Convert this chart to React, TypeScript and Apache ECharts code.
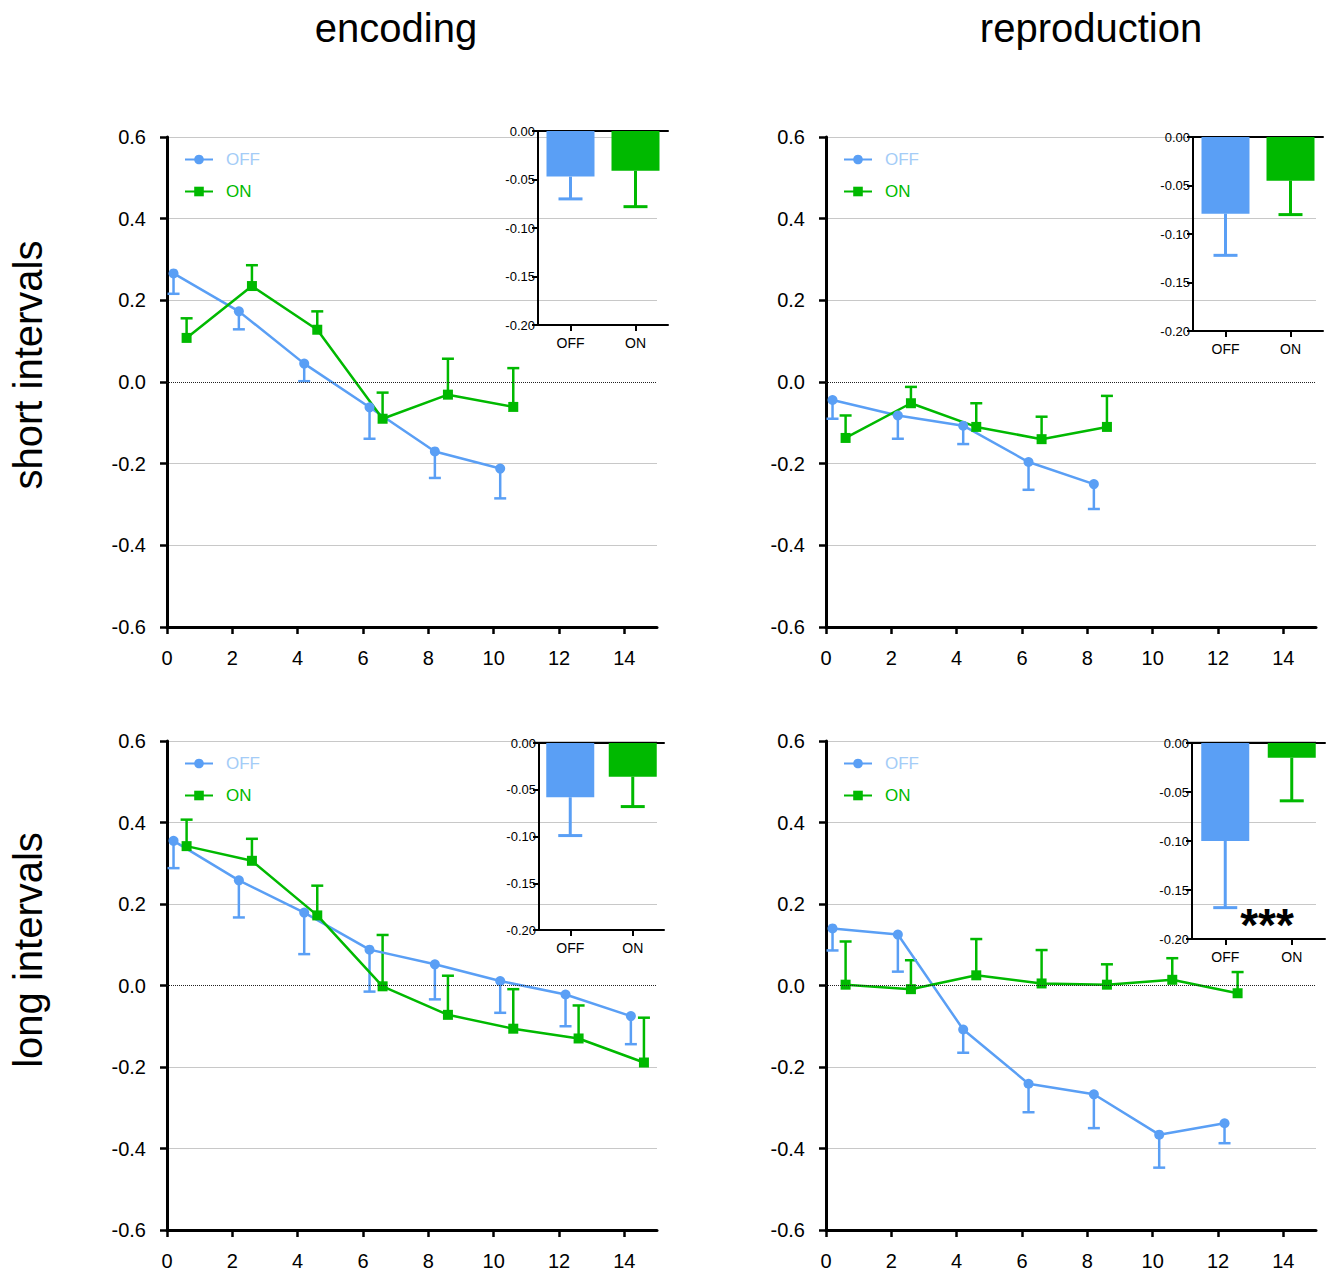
import React, { useEffect, useRef } from 'react';
import * as echarts from 'echarts';

// ---------------- data ----------------
const X_TICKS = [0, 2, 4, 6, 8, 10, 12, 14];
const GROUPS = ['OFF', 'ON'];
const COLUMN_TITLES = ['encoding', 'reproduction'];
const ROW_TITLES = ['short intervals', 'long intervals'];
const STARS = '***';

// encoding, short intervals
const BINS_ENC_SHORT = [0, 2, 4, 6, 8, 10];
const OFF_ENC_SHORT = [0.266, 0.173, 0.045, -0.062, -0.170, -0.212];
const OFF_ENC_SHORT_SEM = [0.050, 0.044, 0.043, 0.077, 0.065, 0.073];
const ON_ENC_SHORT = [0.108, 0.235, 0.128, -0.090, -0.031, -0.061];
const ON_ENC_SHORT_SEM = [0.048, 0.051, 0.045, 0.064, 0.088, 0.095];
const BAR_ENC_SHORT = [-0.047, -0.041];
const BAR_ENC_SHORT_SEM = [0.023, 0.037];

// reproduction, short intervals
const BINS_REP_SHORT = [0, 2, 4, 6, 8];
const OFF_REP_SHORT = [-0.044, -0.082, -0.107, -0.196, -0.250];
const OFF_REP_SHORT_SEM = [0.046, 0.057, 0.045, 0.068, 0.061];
const ON_REP_SHORT = [-0.137, -0.052, -0.110, -0.140, -0.110];
const ON_REP_SHORT_SEM = [0.055, 0.040, 0.058, 0.055, 0.076];
const BAR_REP_SHORT = [-0.079, -0.045];
const BAR_REP_SHORT_SEM = [0.043, 0.035];

// encoding, long intervals
const BINS_ENC_LONG = [0, 2, 4, 6, 8, 10, 12, 14];
const OFF_ENC_LONG = [0.355, 0.258, 0.179, 0.088, 0.052, 0.011, -0.022, -0.075];
const OFF_ENC_LONG_SEM = [0.067, 0.091, 0.102, 0.103, 0.086, 0.078, 0.078, 0.069];
const ON_ENC_LONG = [0.342, 0.306, 0.172, -0.002, -0.072, -0.106, -0.130, -0.189];
const ON_ENC_LONG_SEM = [0.065, 0.054, 0.073, 0.126, 0.096, 0.097, 0.081, 0.110];
const BAR_ENC_LONG = [-0.058, -0.036];
const BAR_ENC_LONG_SEM = [0.041, 0.032];

// reproduction, long intervals
const BINS_REP_LONG = [0, 2, 4, 6, 8, 10, 12];
const OFF_REP_LONG = [0.140, 0.125, -0.108, -0.241, -0.267, -0.366, -0.338];
const OFF_REP_LONG_SEM = [0.054, 0.091, 0.057, 0.070, 0.083, 0.081, 0.049];
const ON_REP_LONG = [0.002, -0.009, 0.025, 0.005, 0.002, 0.014, -0.019];
const ON_REP_LONG_SEM = [0.106, 0.071, 0.089, 0.082, 0.050, 0.053, 0.052];
const BAR_REP_LONG = [-0.100, -0.015];
const BAR_REP_LONG_SEM = [0.068, 0.044];

// ---------------- styling / layout ----------------
const BLUE = '#5a9ff5';
const GREEN = '#00b900';
const LEGEND_BLUE = '#a4ccf7';
const FONT = '"Liberation Sans", Arial, Helvetica, sans-serif';
const OFF_SHIFT = 0.2;
const ON_SHIFT = 0.6;
const SPLIT_COLORS = ['#c8c8c8', '#c8c8c8', '#c8c8c8', 'rgba(0,0,0,0)', '#c8c8c8', '#c8c8c8', '#c8c8c8'];

const PANELS = [
  {
    bins: BINS_ENC_SHORT, off: OFF_ENC_SHORT, offSem: OFF_ENC_SHORT_SEM, on: ON_ENC_SHORT, onSem: ON_ENC_SHORT_SEM,
    bar: BAR_ENC_SHORT, barSem: BAR_ENC_SHORT_SEM,
    main: { left: 167, top: 137, width: 490, height: 490 },
    inset: { left: 538, top: 131, width: 130, height: 194 },
    legend: { left: 184, top: 151 },
  },
  {
    bins: BINS_REP_SHORT, off: OFF_REP_SHORT, offSem: OFF_REP_SHORT_SEM, on: ON_REP_SHORT, onSem: ON_REP_SHORT_SEM,
    bar: BAR_REP_SHORT, barSem: BAR_REP_SHORT_SEM,
    main: { left: 826, top: 137, width: 490, height: 490 },
    inset: { left: 1193, top: 137, width: 130, height: 194 },
    legend: { left: 843, top: 151 },
  },
  {
    bins: BINS_ENC_LONG, off: OFF_ENC_LONG, offSem: OFF_ENC_LONG_SEM, on: ON_ENC_LONG, onSem: ON_ENC_LONG_SEM,
    bar: BAR_ENC_LONG, barSem: BAR_ENC_LONG_SEM,
    main: { left: 167, top: 741, width: 490, height: 489 },
    inset: { left: 539, top: 743, width: 125, height: 187 },
    legend: { left: 184, top: 755 },
  },
  {
    bins: BINS_REP_LONG, off: OFF_REP_LONG, offSem: OFF_REP_LONG_SEM, on: ON_REP_LONG, onSem: ON_REP_LONG_SEM,
    bar: BAR_REP_LONG, barSem: BAR_REP_LONG_SEM,
    main: { left: 826, top: 741, width: 490, height: 489 },
    inset: { left: 1192, top: 743, width: 133, height: 196 },
    legend: { left: 843, top: 755 },
  },
];

const fmt = (v: number, d: number) => (Math.abs(v) < 1e-9 ? (0).toFixed(d) : v.toFixed(d));

function errRenderer(color: string, cap: number, width: number) {
  return (params: any, api: any) => {
    const p = api.coord([api.value(0), api.value(1)]);
    const e = api.coord([api.value(0), api.value(2)]);
    return {
      type: 'group',
      children: [
        { type: 'line', shape: { x1: p[0], y1: p[1], x2: e[0], y2: e[1] }, style: { stroke: color, lineWidth: width } },
        { type: 'line', shape: { x1: e[0] - cap / 2, y1: e[1], x2: e[0] + cap / 2, y2: e[1] }, style: { stroke: color, lineWidth: width } },
      ],
    };
  };
}

function insetErrRenderer(cap: number, width: number) {
  return (params: any, api: any) => {
    const idx = api.value(0);
    const color = idx === 0 ? BLUE : GREEN;
    const p = api.coord([idx, api.value(1)]);
    const e = api.coord([idx, api.value(2)]);
    return {
      type: 'group',
      children: [
        { type: 'line', shape: { x1: p[0], y1: p[1], x2: e[0], y2: e[1] }, style: { stroke: color, lineWidth: width } },
        { type: 'line', shape: { x1: e[0] - cap / 2, y1: e[1], x2: e[0] + cap / 2, y2: e[1] }, style: { stroke: color, lineWidth: width } },
      ],
    };
  };
}

function buildOption() {
  const grid: any[] = [];
  const xAxis: any[] = [];
  const yAxis: any[] = [];
  const series: any[] = [];
  const legend: any[] = [];

  PANELS.forEach((p, i) => {
    const gMain = grid.length;
    grid.push({ ...p.main });
    const gIn = grid.length;
    grid.push({ ...p.inset });

    const xMain = xAxis.length;
    xAxis.push({
      type: 'value', gridIndex: gMain, min: 0, max: 15,
      axisLine: { show: true, onZero: false, lineStyle: { color: '#000', width: 3 } },
      axisTick: { show: true, customValues: X_TICKS, length: 7, lineStyle: { color: '#000', width: 2.5 } },
      axisLabel: { customValues: X_TICKS, fontSize: 20, color: '#000', margin: 21, fontFamily: FONT },
      splitLine: { show: false },
    });
    const yMain = yAxis.length;
    yAxis.push({
      type: 'value', gridIndex: gMain, min: -0.6, max: 0.6, interval: 0.2,
      axisLine: { show: true, onZero: false, lineStyle: { color: '#000', width: 3 } },
      axisTick: { show: true, length: 7, lineStyle: { color: '#000', width: 2.5 } },
      axisLabel: { fontSize: 20, color: '#000', margin: 21, fontFamily: FONT, formatter: (v: number) => fmt(v, 1) },
      splitLine: { show: true, showMinLine: true, showMaxLine: true, lineStyle: { color: SPLIT_COLORS, width: 1 } },
    });
    const xIn = xAxis.length;
    xAxis.push({
      type: 'category', gridIndex: gIn, data: GROUPS, position: 'bottom',
      axisLine: { show: true, onZero: false, lineStyle: { color: '#000', width: 2 } },
      axisTick: { show: true, alignWithLabel: true, length: 6, lineStyle: { color: '#000', width: 2 } },
      axisLabel: { fontSize: 14, color: '#000', margin: 11, fontFamily: FONT },
      splitLine: { show: false },
    });
    xAxis.push({
      type: 'category', gridIndex: gIn, data: GROUPS, position: 'top',
      axisLine: { show: true, onZero: false, lineStyle: { color: '#000', width: 2 } },
      axisTick: { show: false }, axisLabel: { show: false }, splitLine: { show: false },
    });
    const yIn = yAxis.length;
    yAxis.push({
      type: 'value', gridIndex: gIn, min: -0.2, max: 0, interval: 0.05,
      axisLine: { show: true, onZero: false, lineStyle: { color: '#000', width: 2 } },
      axisTick: { show: true, length: 6, lineStyle: { color: '#000', width: 2 } },
      axisLabel: { fontSize: 13, color: '#000', margin: 3, fontFamily: FONT, formatter: (v: number) => fmt(v, 2) },
      splitLine: { show: false },
    });

    series.push({
      name: 'OFF', type: 'line', xAxisIndex: xMain, yAxisIndex: yMain,
      data: p.bins.map((b, k) => [b + OFF_SHIFT, p.off[k]]),
      symbol: 'circle', symbolSize: 10, z: 4,
      lineStyle: { color: BLUE, width: 2.5 }, itemStyle: { color: BLUE },
      markLine: {
        silent: true, symbol: ['none', 'none'], label: { show: false },
        lineStyle: { type: 'dotted', color: '#222', width: 1 },
        data: [{ yAxis: 0 }],
      },
    });
    series.push({
      name: 'ON', type: 'line', xAxisIndex: xMain, yAxisIndex: yMain,
      data: p.bins.map((b, k) => [b + ON_SHIFT, p.on[k]]),
      symbol: 'rect', symbolSize: 10, z: 4,
      lineStyle: { color: GREEN, width: 2.5 }, itemStyle: { color: GREEN },
    });
    series.push({
      name: 'errOFF' + i, type: 'custom', xAxisIndex: xMain, yAxisIndex: yMain, z: 3,
      data: p.bins.map((b, k) => [b + OFF_SHIFT, p.off[k], p.off[k] - p.offSem[k]]),
      encode: { x: 0, y: [1, 2] },
      renderItem: errRenderer(BLUE, 12, 2.5),
    });
    series.push({
      name: 'errON' + i, type: 'custom', xAxisIndex: xMain, yAxisIndex: yMain, z: 3,
      data: p.bins.map((b, k) => [b + ON_SHIFT, p.on[k], p.on[k] + p.onSem[k]]),
      encode: { x: 0, y: [1, 2] },
      renderItem: errRenderer(GREEN, 12, 2.5),
    });
    series.push({
      name: 'bars' + i, type: 'bar', xAxisIndex: xIn, yAxisIndex: yIn, barWidth: 48, z: 5,
      data: p.bar.map((v, k) => ({ value: v, itemStyle: { color: k === 0 ? BLUE : GREEN } })),
    });
    series.push({
      name: 'barErr' + i, type: 'custom', xAxisIndex: xIn, yAxisIndex: yIn, z: 6,
      data: p.bar.map((v, k) => [k, v, v - p.barSem[k]]),
      encode: { x: 0, y: [1, 2] },
      renderItem: insetErrRenderer(24, 3),
    });

    legend.push({
      left: p.legend.left, top: p.legend.top, padding: 0, orient: 'vertical',
      itemWidth: 28, itemHeight: 12, itemGap: 15,
      selectedMode: false,
      textStyle: { fontSize: 17, fontFamily: FONT, padding: [0, 0, 0, 8] },
      data: [
        { name: 'OFF', textStyle: { color: LEGEND_BLUE } },
        { name: 'ON', textStyle: { color: GREEN } },
      ],
    });
  });

  const graphic: any[] = [
    { type: 'text', x: 396, y: 28, style: { text: COLUMN_TITLES[0], font: `40px ${FONT}`, fill: '#000', align: 'center', verticalAlign: 'middle' } },
    { type: 'text', x: 1091, y: 28, style: { text: COLUMN_TITLES[1], font: `40px ${FONT}`, fill: '#000', align: 'center', verticalAlign: 'middle' } },
    { type: 'text', x: 28, y: 365, rotation: Math.PI / 2, style: { text: ROW_TITLES[0], font: `40px ${FONT}`, fill: '#000', align: 'center', verticalAlign: 'middle' } },
    { type: 'text', x: 28, y: 950, rotation: Math.PI / 2, style: { text: ROW_TITLES[1], font: `40px ${FONT}`, fill: '#000', align: 'center', verticalAlign: 'middle' } },
    { type: 'text', x: 1267, y: 925, z: 100, style: { text: STARS, font: `bold 46px ${FONT}`, fill: '#000', align: 'center', verticalAlign: 'middle' } },
  ];

  return {
    animation: false,
    backgroundColor: '#fff',
    textStyle: { fontFamily: FONT },
    grid, xAxis, yAxis, series, legend, graphic,
  };
}

export default function App() {
  const ref = useRef<HTMLDivElement>(null);
  useEffect(() => {
    if (!ref.current) return;
    const chart = echarts.init(ref.current, undefined, { renderer: 'svg' });
    chart.setOption(buildOption() as any);
    return () => chart.dispose();
  }, []);
  return <div ref={ref} style={{ position: 'absolute', left: 0, top: 0, width: 1326, height: 1273 }} />;
}
